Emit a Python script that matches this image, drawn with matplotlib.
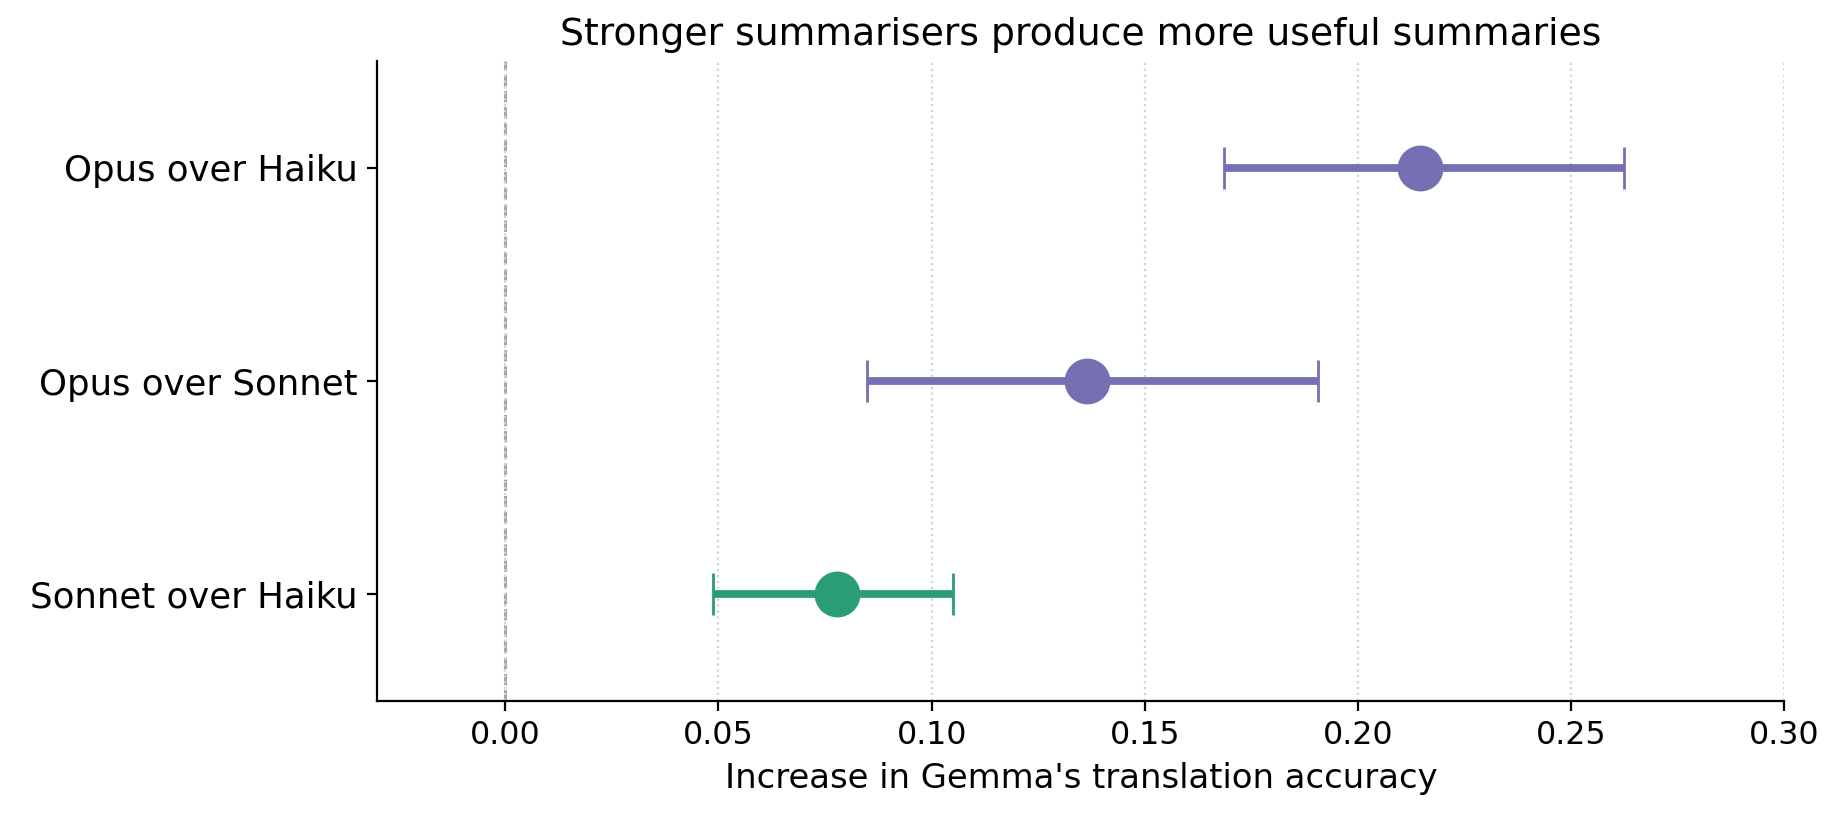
import numpy as np
import matplotlib.pyplot as plt

# comparisons, bottom row first
labels = ["Sonnet over Haiku", "Opus over Sonnet", "Opus over Haiku"]
means = [0.0778, 0.1365, 0.2146]
lower = [0.0488, 0.0848, 0.1685]
upper = [0.1051, 0.1906, 0.2624]
colors = ["#2a9d78", "#7570b3", "#7570b3"]

fig, ax = plt.subplots(figsize=(9.16, 4.08), dpi=200)
fig.subplots_adjust(left=0.206, right=0.974, top=0.925, bottom=0.141)

ax.axvline(0, color="gray", linestyle="--", linewidth=1.1, alpha=0.7, zorder=1)

for i, (m, lo, hi, c) in enumerate(zip(means, lower, upper, colors)):
    ax.errorbar(m, i, xerr=[[m - lo], [hi - m]], fmt="o", color=c,
                markersize=15.5, elinewidth=2.8, capsize=7.4, capthick=1,
                zorder=3)

ax.set_yticks(range(len(labels)))
ax.set_yticklabels(labels, fontsize=12.8)
ax.set_ylim(-0.5, 2.5)
ax.set_xlim(-0.03, 0.30)
ax.set_xticks(np.arange(0, 0.301, 0.05))
ax.tick_params(axis="x", labelsize=11.4)
ax.set_xlabel("Increase in Gemma's translation accuracy", fontsize=12.2)
ax.set_title("Stronger summarisers produce more useful summaries", fontsize=13.6)
ax.grid(axis="x", linestyle=":", color="lightgray", linewidth=0.8)
ax.spines["top"].set_visible(False)
ax.spines["right"].set_visible(False)

fig.savefig("out.png", dpi=200)
